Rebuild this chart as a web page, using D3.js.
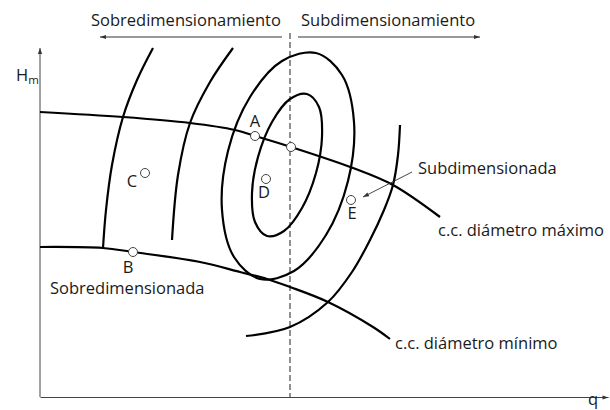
<!DOCTYPE html>
<html><head><meta charset="utf-8">
<script src="https://cdn.jsdelivr.net/npm/d3@7"></script>
<style>
body{margin:0;background:#fff}
text{font-family:"Open Sans",sans-serif;fill:#1a1a1a}
</style>
</head><body><svg id="c" width="610" height="410"></svg>
<script>
// Schematic data (q = caudal, H = altura), arbitrary units
const upperCurve = [[0,285],[83,280],[150,274],[195,267],[215,261],[251,250],[313,229],[353,212],[400,180]];
const lowerCurve = [[0,150],[63,149],[93,145],[160,135],[200,125],[227,118],[250,110],[288,95],[333,70],[350,58]];
const arc1 = [[113,349],[97,317],[83,280],[72,232],[66,187],[63,149]];
const arc2 = [[193,349],[170,315],[150,274],[138,222],[132,157]];
const arc3 = [[206,61],[250,70],[288,95],[312,125],[330,157],[344,187],[353,212],[358,242],[360,272]];
const innerLoop = [[267,303],[279,290],[282,260],[276,224],[262,189],[244,166],[227,161],[215,175],[212,204],[218,240],[232,275],[250,298]];
const outerLoop = [[276,344],[302,322],[314,275],[308,216],[286,162],[254,126],[220,118],[194,140],[182,187],[188,246],[210,300],[242,336]];
const pointNames = ["A","","B","C","D","E"];
const pointQ = [215,251,93,105,226,311];
const pointH = [261,250,145,224,218,197];
const bestQ = 250;
const regionLabels = ["Sobredimensionamiento","Subdimensionamiento"];
const curveLabels = ["c.c. diámetro máximo","c.c. diámetro mínimo"];
const zoneLabels = ["Subdimensionada","Sobredimensionada"];

const FS = 16.5;
const svg = d3.select("#c");
const x = d3.scaleLinear().domain([0,568]).range([40,608]);
const y = d3.scaleLinear().domain([0,349]).range([397,48]);

const defs = svg.append("defs");
function marker(id, color, w, h){
  defs.append("marker").attr("id",id).attr("viewBox","0 0 10 10").attr("refX",10).attr("refY",5)
    .attr("markerWidth",w).attr("markerHeight",h).attr("markerUnits","userSpaceOnUse").attr("orient","auto")
    .append("path").attr("d","M0,1.5L10,5L0,8.5Z").attr("fill",color);
}
marker("ax","#333",8,6);
marker("ar","#333",8,6);

// axes
const gx = svg.append("g").attr("transform",`translate(0,${y(0)})`).call(d3.axisBottom(x).tickValues([]).tickSizeOuter(0));
gx.select(".domain").attr("stroke","#444").attr("marker-end","url(#ax)");
const gy = svg.append("g").attr("transform",`translate(${x(0)},0)`).call(d3.axisLeft(y).tickValues([]).tickSizeOuter(0));
gy.select(".domain").attr("stroke","#444").attr("d",`M0,${y(0)}V${y(349)}`).attr("marker-end","url(#ax)");

// dashed optimum line
svg.append("line").attr("x1",x(bestQ)).attr("x2",x(bestQ)).attr("y1",y(364)).attr("y2",y(0))
  .attr("stroke","#555").attr("stroke-width",1.3).attr("stroke-dasharray","6,3");

const line = d3.line().x(d=>x(d[0])).y(d=>y(d[1])).curve(d3.curveCatmullRom.alpha(0.5));
const loop = d3.line().x(d=>x(d[0])).y(d=>y(d[1])).curve(d3.curveCatmullRomClosed.alpha(0.5));

[arc1,arc2,arc3].forEach(a=>svg.append("path").attr("d",line(a)).attr("fill","none").attr("stroke","#000").attr("stroke-width",2.2));
[innerLoop,outerLoop].forEach(a=>svg.append("path").attr("d",loop(a)).attr("fill","none").attr("stroke","#000").attr("stroke-width",2.2));
[upperCurve,lowerCurve].forEach(a=>svg.append("path").attr("d",line(a)).attr("fill","none").attr("stroke","#000").attr("stroke-width",2.2));

// points
const pts = pointQ.map((q,i)=>({q,h:pointH[i],name:pointNames[i]}));
svg.selectAll("circle.pt").data(pts).enter().append("circle")
  .attr("cx",d=>x(d.q)).attr("cy",d=>y(d.h)).attr("r",4.5)
  .attr("fill","#fff").attr("stroke","#444").attr("stroke-width",1);
const off = {A:[0,-9],B:[-5,21],C:[-13,14],D:[-2,19],E:[1,19]};
svg.selectAll("text.pl").data(pts.filter(d=>d.name)).enter().append("text")
  .attr("x",d=>x(d.q)+off[d.name][0]).attr("y",d=>y(d.h)+off[d.name][1])
  .attr("text-anchor","middle").attr("font-size",FS).text(d=>d.name);

// top region arrows
svg.append("line").attr("x1",x(242)).attr("x2",x(60)).attr("y1",37).attr("y2",37)
  .attr("stroke","#333").attr("stroke-width",1).attr("marker-end","url(#ar)");
svg.append("line").attr("x1",x(258)).attr("x2",x(440)).attr("y1",37).attr("y2",37)
  .attr("stroke","#333").attr("stroke-width",1).attr("marker-end","url(#ar)");
svg.append("text").attr("x",91).attr("y",26).attr("font-size",FS).text(regionLabels[0]);
svg.append("text").attr("x",301).attr("y",26).attr("font-size",FS).text(regionLabels[1]);

// curve labels
svg.append("text").attr("x",438).attr("y",236).attr("font-size",FS).text(curveLabels[0]);
svg.append("text").attr("x",395).attr("y",349).attr("font-size",FS).text(curveLabels[1]);
svg.append("text").attr("x",418).attr("y",174).attr("font-size",FS).text(zoneLabels[0]);
svg.append("text").attr("x",50).attr("y",294).attr("font-size",FS).text(zoneLabels[1]);
svg.append("line").attr("x1",412).attr("y1",172).attr("x2",363).attr("y2",197)
  .attr("stroke","#333").attr("stroke-width",0.9).attr("marker-end","url(#ar)");

// axis labels
const hm = svg.append("text").attr("x",16).attr("y",81).attr("font-size",FS);
hm.append("tspan").text("H");
hm.append("tspan").attr("font-size",11.5).attr("dy",3).text("m");
svg.append("text").attr("x",588).attr("y",405).attr("font-size",FS).text("q");
</script></body></html>
